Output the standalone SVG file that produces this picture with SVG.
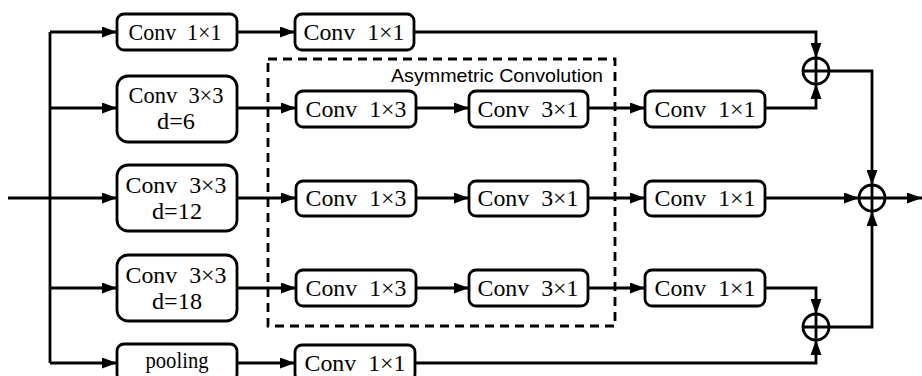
<svg xmlns="http://www.w3.org/2000/svg" width="922" height="376" viewBox="0 0 922 376">
<defs>
<marker id="ah" viewBox="0 0 15 11" refX="15" refY="5.5" markerWidth="15" markerHeight="11" markerUnits="userSpaceOnUse" orient="auto">
<path d="M0,0 L15,5.5 L0,11 Z" fill="#000"/>
</marker>
<style>
.box{fill:#fff;stroke:#000;stroke-width:2.8}
.t{font-family:"Liberation Serif","Times New Roman",serif;font-size:24px;fill:#000;text-anchor:middle}
.t2{font-family:"Liberation Serif","Times New Roman",serif;font-size:23px;fill:#000;text-anchor:middle}
.c{fill:none;stroke:#000;stroke-width:2.8}
.ca{fill:none;stroke:#000;stroke-width:2.8;marker-end:url(#ah)}
.sum{fill:#fff;stroke:#000;stroke-width:2.8}
.lbl{font-family:"Liberation Sans",Arial,sans-serif;font-size:18.5px;fill:#000}
</style>
</defs>
<rect width="922" height="376" fill="#fff"/>

<g id="connectors">
<path class="c" d="M8,198 H50"/>
<path class="c" d="M50,32 V363"/>
<path class="ca" d="M50,32 H117"/>
<path class="ca" d="M50,108 H117"/>
<path class="ca" d="M50,198 H117"/>
<path class="ca" d="M50,288 H117"/>
<path class="ca" d="M50,363 H117"/>
<path class="ca" d="M237,32 H295"/>
<path class="ca" d="M237,108 H296"/>
<path class="ca" d="M237,198 H296"/>
<path class="ca" d="M237,288 H296"/>
<path class="ca" d="M237,363 H295"/>
<path class="ca" d="M416,108 H469"/>
<path class="ca" d="M416,198 H469"/>
<path class="ca" d="M416,288 H469"/>
<path class="ca" d="M588,108 H645"/>
<path class="ca" d="M588,198 H645"/>
<path class="ca" d="M588,288 H645"/>
<path class="ca" d="M414,32 H816 V58"/>
<path class="ca" d="M765,108 H816 V84"/>
<path class="ca" d="M829,71 H872 V185"/>
<path class="ca" d="M765,198 H859"/>
<path class="ca" d="M765,288 H816 V314"/>
<path class="ca" d="M415,363 H816 V340"/>
<path class="ca" d="M829,327 H872 V211"/>
<path class="ca" d="M885,198 H922"/>
</g>

<g id="asym">
<rect x="268" y="59" width="347" height="267" fill="none" stroke="#000" stroke-width="2.8" stroke-dasharray="9,6"/>
<text class="lbl" x="391" y="82" textLength="212" lengthAdjust="spacingAndGlyphs">Asymmetric Convolution</text>
</g>

<g id="c1r1"><rect class="box" x="117" y="14" width="120" height="36" rx="7"/><text class="t" x="175" y="40" xml:space="preserve" textLength="93" lengthAdjust="spacingAndGlyphs">Conv  1×1</text></g>
<g id="c1r2"><rect class="box" x="117" y="76" width="120" height="66" rx="11"/><text class="t2" x="176" y="103" xml:space="preserve" textLength="95" lengthAdjust="spacingAndGlyphs">Conv  3×3</text><text class="t2" x="176" y="129" textLength="38" lengthAdjust="spacingAndGlyphs">d=6</text></g>
<g id="c1r3"><rect class="box" x="117" y="165" width="120" height="66" rx="11"/><text class="t2" x="176" y="193" xml:space="preserve" textLength="101" lengthAdjust="spacingAndGlyphs">Conv  3×3</text><text class="t2" x="177" y="219" textLength="50" lengthAdjust="spacingAndGlyphs">d=12</text></g>
<g id="c1r4"><rect class="box" x="117" y="255" width="120" height="66" rx="11"/><text class="t2" x="176" y="283" xml:space="preserve" textLength="101" lengthAdjust="spacingAndGlyphs">Conv  3×3</text><text class="t2" x="177" y="309" textLength="50" lengthAdjust="spacingAndGlyphs">d=18</text></g>
<g id="c1r5"><rect class="box" x="117" y="344" width="120" height="37" rx="7"/><text class="t" x="177" y="368" textLength="63" lengthAdjust="spacingAndGlyphs">pooling</text></g>

<g id="c2r1"><rect class="box" x="295" y="14" width="119" height="36" rx="7"/><text class="t" x="354" y="40" xml:space="preserve" textLength="101" lengthAdjust="spacingAndGlyphs">Conv  1×1</text></g>
<g id="c2r2"><rect class="box" x="296" y="91" width="120" height="36" rx="7"/><text class="t" x="356" y="117" xml:space="preserve" textLength="101" lengthAdjust="spacingAndGlyphs">Conv  1×3</text></g>
<g id="c2r3"><rect class="box" x="296" y="181" width="120" height="35" rx="7"/><text class="t" x="356" y="206" xml:space="preserve" textLength="101" lengthAdjust="spacingAndGlyphs">Conv  1×3</text></g>
<g id="c2r4"><rect class="box" x="296" y="270" width="120" height="36" rx="7"/><text class="t" x="356" y="296" xml:space="preserve" textLength="101" lengthAdjust="spacingAndGlyphs">Conv  1×3</text></g>
<g id="c2r5"><rect class="box" x="295" y="345" width="120" height="36" rx="7"/><text class="t" x="355" y="371" xml:space="preserve" textLength="101" lengthAdjust="spacingAndGlyphs">Conv  1×1</text></g>

<g id="c3r2"><rect class="box" x="469" y="91" width="119" height="36" rx="7"/><text class="t" x="528" y="117" xml:space="preserve" textLength="101" lengthAdjust="spacingAndGlyphs">Conv  3×1</text></g>
<g id="c3r3"><rect class="box" x="469" y="181" width="119" height="35" rx="7"/><text class="t" x="528" y="206" xml:space="preserve" textLength="101" lengthAdjust="spacingAndGlyphs">Conv  3×1</text></g>
<g id="c3r4"><rect class="box" x="469" y="270" width="119" height="36" rx="7"/><text class="t" x="528" y="296" xml:space="preserve" textLength="101" lengthAdjust="spacingAndGlyphs">Conv  3×1</text></g>

<g id="c4r2"><rect class="box" x="645" y="91" width="120" height="36" rx="7"/><text class="t" x="705" y="117" xml:space="preserve" textLength="101" lengthAdjust="spacingAndGlyphs">Conv  1×1</text></g>
<g id="c4r3"><rect class="box" x="645" y="181" width="120" height="35" rx="7"/><text class="t" x="705" y="206" xml:space="preserve" textLength="101" lengthAdjust="spacingAndGlyphs">Conv  1×1</text></g>
<g id="c4r4"><rect class="box" x="645" y="270" width="120" height="36" rx="7"/><text class="t" x="705" y="296" xml:space="preserve" textLength="101" lengthAdjust="spacingAndGlyphs">Conv  1×1</text></g>

<g id="sum1"><circle class="sum" cx="816" cy="71" r="13"/><path class="c" d="M803,71 H829 M816,58 V84"/></g>
<g id="sum2"><circle class="sum" cx="816" cy="327" r="13"/><path class="c" d="M803,327 H829 M816,314 V340"/></g>
<g id="sum3"><circle class="sum" cx="872" cy="198" r="13"/><path class="c" d="M859,198 H885 M872,185 V211"/></g>
</svg>
